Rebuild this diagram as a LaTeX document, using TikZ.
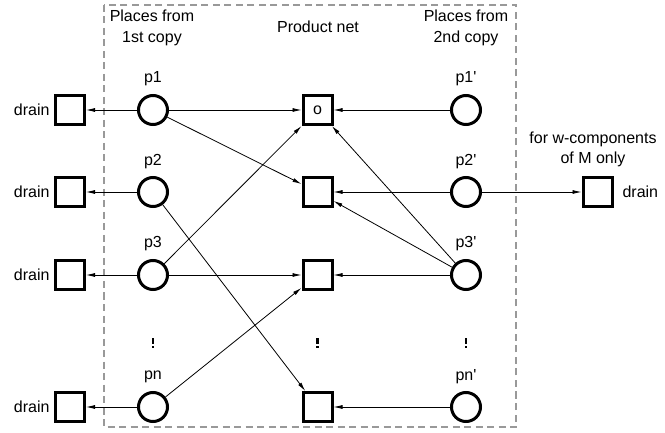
\documentclass[tikz,border=0pt]{standalone}
\usepackage{fontspec}
\setmainfont{Liberation Sans}
\usetikzlibrary{arrows.meta}
\newcommand{\prm}{\textquotesingle}
\begin{document}
\begin{tikzpicture}[x=1pt,y=-1pt,
  every node/.style={font=\fontsize{16}{18}\selectfont},
  place/.style={circle,draw,line width=3pt,minimum size=29pt,inner sep=0pt},
  trans/.style={rectangle,draw,line width=3pt,minimum size=29pt,inner sep=0pt},
  arc/.style={line width=0.8pt,-{Latex[length=9pt,width=4pt]}},
  vdots/.style={inner sep=0pt}]
\useasboundingbox (0,0) rectangle (665,433);
% dashed frame around the product net
\draw[gray!80!white,line width=1.4pt,dash pattern=on 7pt off 4.5pt] (104,5) rectangle (516,427);
% headings
\node[align=center] at (152,28) {Places from\\[3pt]1st copy};
\node at (318,27) {Product net};
\node[align=center] at (466,28) {Places from\\[3pt]2nd copy};
\node[align=center] at (593,149) {for w-components\\[2pt]of M only};
% places of the first copy
\node[place] (p1) at (153,110) {};
\node[place] (p2) at (153,192) {};
\node[place] (p3) at (153,275) {};
\node[place] (pn) at (153,407) {};
\node at (153,79) {p1};
\node at (153,162) {p2};
\node at (153,244) {p3};
\node at (153,377) {pn};
% places of the second copy
\node[place] (q1) at (466,110) {};
\node[place] (q2) at (466,192) {};
\node[place] (q3) at (466,275) {};
\node[place] (qn) at (466,407) {};
\node at (466,79) {p1\prm};
\node at (466,162) {p2\prm};
\node at (466,244) {p3\prm};
\node at (466,377) {pn\prm};
% product transitions
\node[trans] (t1) at (317.5,110) {o};
\node[trans] (t2) at (317.5,192) {};
\node[trans] (t3) at (317.5,275) {};
\node[trans] (t4) at (317.5,407) {};
% drain transitions
\node[trans] (d1) at (70,110) {};
\node[trans] (d2) at (70,192) {};
\node[trans] (d3) at (70,275) {};
\node[trans] (dn) at (70,407) {};
\node[trans] (dr) at (597.5,192) {};
\node[anchor=east] at (53,110) {drain};
\node[anchor=east] at (53,192) {drain};
\node[anchor=east] at (53,275) {drain};
\node[anchor=east] at (53,407) {drain};
\node[anchor=west] at (619,192) {drain};
% elision marks
\foreach \x/\n in {153/e1,317.5/e2,466/e3}{
  \node[vdots] (\n) at (\x,342) {};
  \fill (\x-1.2,338) rectangle (\x+1.2,344);
  \fill (\x-1.2,345.5) rectangle (\x+1.2,347.5);
}
% arcs to the drains
\draw[arc] (p1) -- (d1);
\draw[arc] (p2) -- (d2);
\draw[arc] (p3) -- (d3);
\draw[arc] (pn) -- (dn);
\draw[arc] (q2) -- (dr);
% arcs from the first copy
\draw[arc] (p1) -- (t1);
\draw[arc] (p1) -- (t2);
\draw[arc] (p2) -- (t4);
\draw[arc] (p3) -- (t1);
\draw[arc] (p3) -- (t3);
\draw[arc] (pn) -- (t3);
% arcs from the second copy
\draw[arc] (q1) -- (t1);
\draw[arc] (q2) -- (t2);
\draw[arc] (q3) -- (t1);
\draw[arc] (q3) -- (t2);
\draw[arc] (q3) -- (t3);
\draw[arc] (qn) -- (t4);
\end{tikzpicture}
\end{document}
